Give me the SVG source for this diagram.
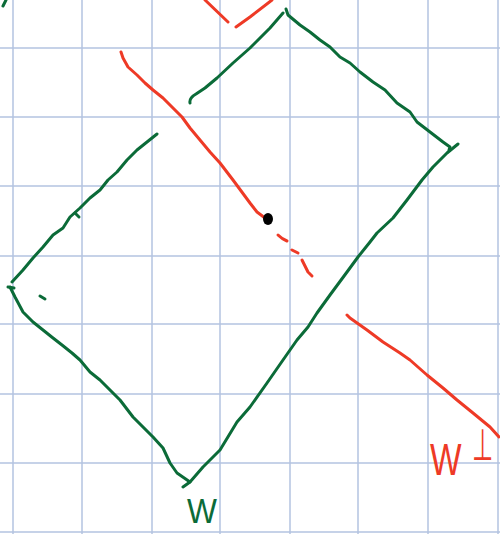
<svg xmlns="http://www.w3.org/2000/svg" width="500" height="534" viewBox="0 0 500 534">
<style>
.grid line{stroke:#b3c3e0;stroke-width:1.5}
.g{fill:none;stroke:#0b6b38;stroke-width:3;stroke-linecap:round;stroke-linejoin:round}
.r{fill:none;stroke:#ee3a26;stroke-width:3;stroke-linecap:round;stroke-linejoin:round}
</style>
<rect width="500" height="534" fill="#ffffff"/>
<g class="grid">
<line x1="13" y1="0" x2="13" y2="534"/><line x1="82" y1="0" x2="82" y2="534"/><line x1="152" y1="0" x2="152" y2="534"/><line x1="220" y1="0" x2="220" y2="534"/><line x1="290" y1="0" x2="290" y2="534"/><line x1="358" y1="0" x2="358" y2="534"/><line x1="428" y1="0" x2="428" y2="534"/><line x1="498" y1="0" x2="498" y2="534"/>
<line x1="0" y1="48" x2="500" y2="48"/><line x1="0" y1="117" x2="500" y2="117"/><line x1="0" y1="186" x2="500" y2="186"/><line x1="0" y1="256" x2="500" y2="256"/><line x1="0" y1="324" x2="500" y2="324"/><line x1="0" y1="394" x2="500" y2="394"/><line x1="0" y1="463" x2="500" y2="463"/><line x1="0" y1="532" x2="500" y2="532"/>
</g>
<g id="plane-W">
<path class="g" d="M3,6 L6,0"/>
<path class="g" d="M190,103 Q189,98 196,94 L205,88 L217,78 L233,63 L250,48 L260,38 L270,28 L283,13"/>
<path class="g" d="M286,9 L288,15 L300,25 L310,32 L320,40 L330,47 L340,57 L350,63 L360,72 L373,82 L385,90 L397,103 L410,112 L417,122 L430,132 L443,142 L450,147 L449,150"/>
<path class="g" d="M458,144 L447,153 L433,167 L422,180 L407,200 L393,218 L377,233 L370,242 L358,257 L347,272 L330,295 L317,313 L308,327 L297,340 L283,360 L267,383 L250,407 L237,422 L220,450 L203,467 L190,482 L183,487"/>
<path class="g" d="M10,287 L15,297 L23,312 L33,322 L43,330 L53,338 L62,345 L72,353 L80,360 L90,372 L100,380 L110,390 L120,400 L133,417 L143,427 L153,437 L163,448 L170,463 L177,473 L190,482"/>
<path class="g" d="M157,134 L147,142 L137,150 L127,160 L117,172 L108,180 L100,190 L90,198 L80,208 L70,217 L63,228 L53,235 L43,247 L33,258 L23,270 L12,282"/>
<path class="g" d="M75,213 L79,217"/>
<path class="g" d="M8,287 L14,288"/>
<path class="g" d="M40,296 L45,299"/>
<text transform="translate(187,523) scale(0.88,1)" font-family="Liberation Sans, Arial, sans-serif" font-size="36" fill="#0b6b38">W</text>
</g>
<g id="line-Wperp">
<path class="r" d="M205,0 L228,22"/>
<path class="r" d="M236,27 L250,17 L272,0"/>
<path class="r" d="M121,52 L123,58 L128,67 L137,75 L145,83 L153,90 L163,98 L173,108 L182,117 L190,128 L200,140 L210,152 L220,163 L233,180 L250,203 L257,212 L265,218"/>
<path class="r" d="M278,235 Q282,239 287,241"/>
<path class="r" d="M292,250 L298,253"/>
<path class="r" d="M302,260 Q306,268 308,272 L312,276"/>
<path class="r" d="M347,315 L350,318 L367,330 L383,342 L400,353 L410,360 L427,375 L443,388 L457,400 L473,413 L490,427 L499,437"/>
<ellipse cx="268" cy="219" rx="5" ry="6" fill="#000000"/>
<text transform="translate(430,475) scale(0.76,1)" font-family="Liberation Sans, Arial, sans-serif" font-size="44" fill="#ee3a26">W</text>
<text transform="translate(472,460) scale(0.55,1)" font-family="DejaVu Sans, sans-serif" font-size="44" fill="#ee3a26">⊥</text>
</g>
</svg>
